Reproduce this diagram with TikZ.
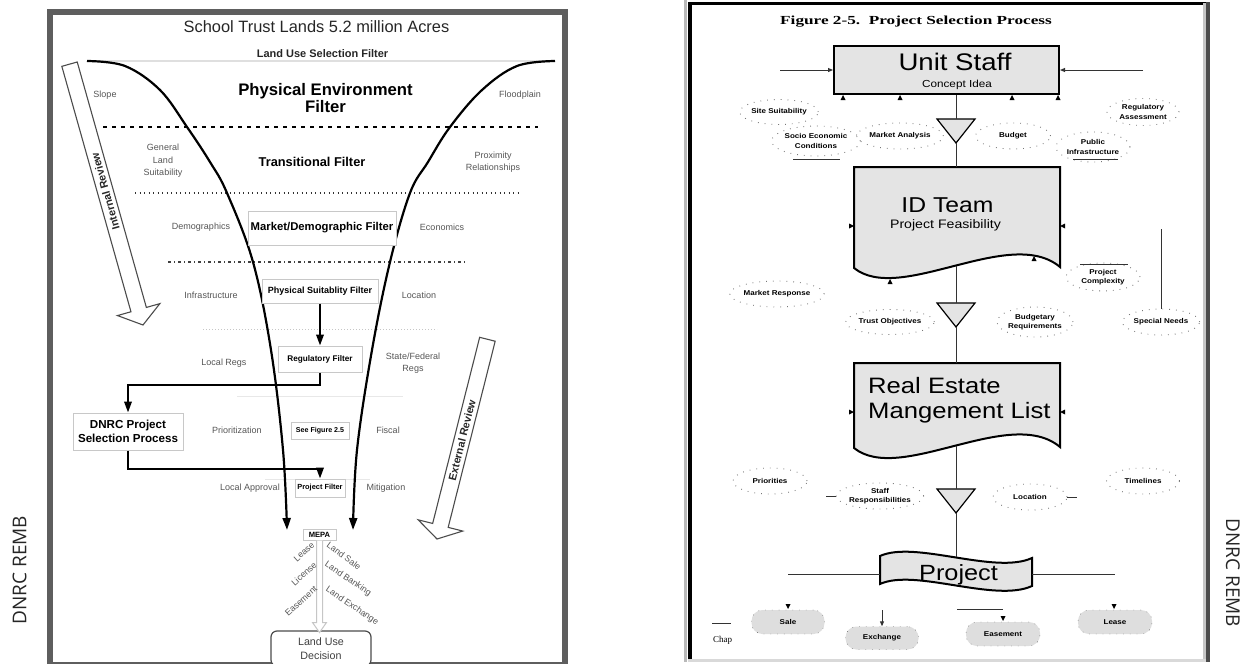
\documentclass[tikz,border=0pt]{standalone}
\usepackage{fontspec}
\setmainfont{Liberation Sans}
\newfontfamily\widesans[FakeStretch=1.15]{Liberation Sans}
\newfontfamily\figtitle[FakeStretch=1.4]{Liberation Serif}
\newfontfamily\chapfont{Liberation Serif}
\newfontfamily\marginfont{Open Sans}
\usetikzlibrary{arrows.meta,positioning,shapes.geometric}

\definecolor{framegray}{HTML}{5E5E5E}
\definecolor{lblgray}{HTML}{555555}
\definecolor{boxedge}{HTML}{C8C8C8}
\definecolor{boxfill}{HTML}{E4E4E4}
\definecolor{pillfill}{HTML}{DEDEDE}
\definecolor{ringgray}{HTML}{777777}

\newcommand{\fsz}[2]{\fontsize{#1}{#2}\selectfont}
% small arrow tips sitting on box edges
\newcommand{\tipup}[1]{\fill #1 -- ++(-2.5,5) -- ++(5,0) -- cycle;}
\newcommand{\tipdown}[1]{\fill #1 -- ++(-2.5,-5) -- ++(5,0) -- cycle;}
\newcommand{\tipright}[1]{\fill #1 -- ++(-5,-2.5) -- ++(0,5) -- cycle;}
\newcommand{\tipleft}[1]{\fill #1 -- ++(5,-2.5) -- ++(0,5) -- cycle;}

\begin{document}
\begin{tikzpicture}[x=1pt, y=-1pt,
  sidelbl/.style={font=\fsz{9}{12.5}, text=lblgray, align=center, inner sep=0pt},
  fbox/.style={draw=boxedge, line width=1pt, fill=white, font=\bfseries, inner sep=0pt},
  funnel/.style={line width=2.2pt, -{Triangle[length=12pt,width=8pt]}},
  flow/.style={line width=2pt, -{Triangle[length=11pt,width=7.5pt]}},
  bigarrow/.style={draw=black!70, line width=1.1pt, fill=white, line join=miter},
  outlbl/.style={font=\fsz{8.8}{10}, text=lblgray, inner sep=0pt},
  stepbox/.style={draw=black, line width=2pt, fill=boxfill},
  ring/.style={ellipse, draw=ringgray, dash pattern=on 0.8pt off 6pt, line width=0.9pt, font=\widesans\bfseries\fsz{7}{9.5}, align=center, inner sep=0pt},
  pill/.style={rectangle, rounded corners=11pt, fill=pillfill, draw=black!70, dash pattern=on 0.8pt off 6pt, font=\widesans\bfseries\fsz{7}{9}, inner sep=0pt},
  link/.style={line width=1pt, draw=black!80},
  mergetri/.style={draw=black, line width=1.2pt, fill=boxfill},
  sidenote/.style={font=\marginfont\fsz{19}{20}, text=black!85, inner sep=0pt},
]
\useasboundingbox (0,0) rectangle (1248,664);

% margin labels
\node[sidenote, rotate=90] (dnrcL) at (19.5,570) {DNRC REMB};
\node[sidenote, rotate=-90] (dnrcR) at (1233,573) {DNRC REMB};

% ---------------- left panel: land use funnel ----------------
\draw[line width=6pt, framegray] (50,12) rectangle (565,690);
\draw[line width=1.5pt, framegray] (47,663) -- (568,663);

\node[font=\fsz{16.4}{18}, text=black!85, anchor=base, inner sep=0pt] (title) at (316.5,32) {School Trust Lands 5.2 million Acres};
\node[font=\bfseries\fsz{11}{12}, text=black!85, anchor=base, inner sep=0pt] (lusf) at (322.5,57) {Land Use Selection Filter};
\draw[line width=1.2pt, gray!25] (93,61) -- (555,61);

% filter separators
\draw[line width=2pt, dash pattern=on 4pt off 5pt] (103,127) -- (538,127);
\draw[line width=1.3pt, black!80, dash pattern=on 1.3pt off 3.2pt] (135,193) -- (520,193);
\draw[line width=1.2pt, black!75, dash pattern=on 3pt off 3pt on 1pt off 3pt] (168,262) -- (468,262);
\draw[line width=1pt, gray!45, dash pattern=on 1pt off 2pt] (203,329) -- (437,329);
\draw[line width=1pt, gray!18] (237,396) -- (403,396);
\draw[line width=1pt, gray!18] (265,479) -- (370,479);

% funnel walls
\coordinate (lfend) at (287,530);
\coordinate (rfend) at (353,530);
\draw[funnel] plot[smooth, tension=0.6] coordinates {(87,61) (125,66) (160,90) (187,127) (210,162) (227,193) (253,262) (271,350) (283,450) (lfend)};
\draw[funnel] plot[smooth, tension=0.6] coordinates {(555,61) (517,66) (482,90) (450,127) (428,162) (410,193) (390,262) (372,350) (357,450) (rfend)};

% review arrows
\begin{scope}[shift={(143,325)}, rotate=-74.27]
  \draw[bigarrow] (0pt,0pt) -- (-16pt,22pt) -- (-16pt,8pt) -- (-271pt,8pt) -- (-271pt,-8pt) -- (-16pt,-8pt) -- (-16pt,-22pt) -- cycle;
  \node[font=\bfseries\fsz{10.8}{12}, text=black!85, rotate=105.73, inner sep=0pt] (intrev) at (-139pt,0pt) {Internal Review};
\end{scope}
\begin{scope}[shift={(437,539)}, rotate=-104.17]
  \draw[bigarrow] (0pt,0pt) -- (-14pt,23pt) -- (-14pt,8pt) -- (-206pt,8pt) -- (-206pt,-8pt) -- (-14pt,-8pt) -- (-14pt,-23pt) -- cycle;
  \node[font=\bfseries\fsz{10.8}{12}, text=black!85, rotate=75.83, inner sep=0pt] (extrev) at (-102pt,0pt) {External Review};
\end{scope}

% filter levels
\node[font=\bfseries\fsz{16.7}{18}, anchor=base, inner sep=0pt] (pe1) at (325.5,95) {Physical Environment};
\node[font=\bfseries\fsz{16.7}{18}, anchor=base, inner sep=0pt] (pe2) at (325.5,112) {Filter};
\node[sidelbl] (slope) at (105,95) {Slope};
\node[sidelbl] (flood) at (520,95) {Floodplain};

\node[sidelbl] (genland) at (163,161) {General\\Land\\Suitability};
\node[font=\bfseries\fsz{12.8}{14}, inner sep=0pt] (trans) at (312,162) {Transitional Filter};
\node[sidelbl] (prox) at (493,162) {Proximity\\Relationships};

\node[fbox, minimum width=148, minimum height=34, font=\bfseries\fsz{11.3}{12}] (mdf) at (322,228) {Market/Demographic Filter};
\node[sidelbl] (demo) at (201,227) {Demographics};
\node[sidelbl] (econ) at (442,227) {Economics};

\node[fbox, minimum width=116, minimum height=24, font=\bfseries\fsz{9}{10}] (psf) at (320,291) {Physical Suitablity Filter};
\node[sidelbl] (infra) at (211,295) {Infrastructure};
\node[sidelbl] (locL) at (419,295) {Location};

\node[fbox, minimum width=84, minimum height=26, font=\bfseries\fsz{8.2}{9}] (rf) at (320,359) {Regulatory Filter};
\node[sidelbl] (localregs) at (224,363) {Local Regs};
\node[sidelbl] (statefed) at (413,363) {State/Federal\\Regs};

\node[fbox, minimum width=110, minimum height=37, align=center, font=\bfseries\fsz{11.6}{13.5}] (dnrc) at (128,431.5) {DNRC Project\\Selection Process};
\node[fbox, minimum width=58, minimum height=17, font=\bfseries\fsz{7.1}{8}] (seefig) at (320,430.5) {See Figure 2.5};
\node[sidelbl] (prio) at (237,430) {Prioritization};
\node[sidelbl] (fiscal) at (388,430) {Fiscal};

\node[fbox, minimum width=50, minimum height=18, font=\bfseries\fsz{7.4}{8}] (pf) at (320,488) {Project Filter};
\node[sidelbl] (localapp) at (250,488) {Local Approval};
\node[sidelbl] (mitig) at (386,488) {Mitigation};

\node[fbox, minimum width=33, minimum height=11, font=\bfseries\fsz{7.6}{8}] (mepa) at (319.5,534.5) {MEPA};
\node[draw=black!70, line width=1.2pt, rounded corners=6pt, fill=white, minimum width=100, minimum height=35, align=center, font=\fsz{10.7}{14}, text=black!75, inner sep=0pt] (lud) at (321,648.5) {Land Use\\Decision};

\draw[flow] (psf.south) -- (rf.north);
\draw[flow] (rf.south) -- ++(0,12) -| (dnrc.north);
\draw[flow] (dnrc.south) -- ++(0,18) -| (pf.north);

% outcome channel
\draw[draw=gray!45, line width=1pt, fill=white] (mepa.south) ++(-3,0) -- ++(0,82) -- ++(-4,0) -- ++(7,10) -- ++(7,-10) -- ++(-4,0) -- ++(0,-82);
\node[outlbl, rotate=42] (lease1) at (304,552) {Lease};
\node[outlbl, rotate=42] (license) at (304,574) {License};
\node[outlbl, rotate=42] (easement1) at (301,601) {Easement};
\node[outlbl, rotate=-36] (landsale) at (344,556) {Land Sale};
\node[outlbl, rotate=-34] (landbank) at (348,579) {Land Banking};
\node[outlbl, rotate=-34] (landexch) at (352,606) {Land Exchange};

% ---------------- right panel: project selection ----------------
\draw[line width=3pt, gray!55] (685.5,0) -- (685.5,662);
\draw[line width=4pt, black] (689.5,3) -- (689.5,662);
\draw[line width=3pt, black] (688,3.5) -- (1206,3.5);
\draw[line width=3pt, gray!45] (1204.5,3) -- (1204.5,662);
\draw[line width=4pt, black!70] (1208,2) -- (1208,662);
\draw[line width=3pt, gray!30] (688,660.5) -- (1206,660.5);

\node[font=\figtitle\bfseries\fsz{12.3}{14}, anchor=base, inner sep=0pt] (figtitle) at (916,24) {Figure 2-5.\ \ Project Selection Process};

% unit staff
\node[stepbox, minimum width=225, minimum height=48, inner sep=0pt] (us) at (946.5,70) {};
\node[font=\widesans\fsz{24}{26}, anchor=base, inner sep=0pt] (ustitle) at (955,70) {Unit Staff};
\node[font=\widesans\fsz{10.2}{12}, anchor=base, inner sep=0pt] (ussub) at (957,87) {Concept Idea};
\coordinate (usinL) at (780,70);
\coordinate (usinR) at (1143,70);
\draw[link, -{Triangle[length=5pt,width=4pt]}] (usinL) -- (us.west);
\draw[link, -{Triangle[length=5pt,width=4pt]}] (usinR) -- (us.east);
\tipup{(843,95)}
\tipup{(900,95)}
\tipup{(1012,95)}
\tipup{(1058,95)}

\node[ring, minimum width=74, minimum height=25] (sitesuit) at (779,112) {Site Suitability};
\node[ring, minimum width=72, minimum height=27] (regassess) at (1143,112) {Regulatory\\Assessment};
\node[ring, minimum width=75, minimum height=26] (mktanal) at (900,136) {Market Analysis};
\node[ring, minimum width=75, minimum height=26] (budget) at (1013,136) {Budget};
\node[ring, minimum width=72, minimum height=30] (socio) at (816,141) {Socio Economic\\Conditions};
\node[ring, minimum width=68, minimum height=30] (pubinfra) at (1093,147) {Public\\Infrastructure};
\draw[link] (793,159) -- (840,159);
\draw[link] (1073,159) -- (1118,159);

% first merge
\draw[mergetri] (937,119) -- (975,119) -- (956,143) -- cycle;
\coordinate (m1top) at (956,119);
\coordinate (m1bot) at (956,143);
\draw[link] (us.south -| m1top) -- (m1top);

% id team
\draw[stepbox] (854,167) -- (1060,167) -- (1060,267) .. controls (1010,225) and (900,305) .. (854,268) -- cycle;
\coordinate (idtop) at (956,167);
\coordinate (idbot) at (956,266);
\node[font=\widesans\fsz{21.5}{24}, anchor=base, inner sep=0pt] (idtitle) at (947.5,212) {ID Team};
\node[font=\widesans\fsz{12.3}{14}, anchor=base, inner sep=0pt] (idsub) at (945.5,228) {Project Feasibility};
\draw[link] (m1bot) -- (idtop);
\tipright{(854,226)}
\tipleft{(1060,226)}
\tipup{(890,279)}
\tipup{(1034,256)}

\node[ring, minimum width=74, minimum height=28] (projcomp) at (1103,277) {Project\\Complexity};
\draw[link] (1080,264) -- (1128,264);
\node[ring, minimum width=72, minimum height=26] (mktresp) at (777,294) {Market Response};
\node[ring, minimum width=75, minimum height=25] (trustobj) at (890,322) {Trust Objectives};
\node[ring, minimum width=70, minimum height=30] (budreq) at (1035,322) {Budgetary\\Requirements};
\node[ring, minimum width=73, minimum height=26] (specneeds) at (1161,322) {Special Needs};
\draw[link] (specneeds.north) -- ++(0,-80);

% second merge
\draw[mergetri] (937,303) -- (975,303) -- (956,327) -- cycle;
\coordinate (m2top) at (956,303);
\coordinate (m2bot) at (956,327);
\draw[link] (idbot) -- (m2top);

% real estate management list
\draw[stepbox] (854,363) -- (1060,363) -- (1060,447) .. controls (1010,405) and (900,485) .. (854,448) -- cycle;
\coordinate (rmtop) at (956,363);
\coordinate (rmbot) at (956,446);
\node[font=\widesans\fsz{22.3}{25}, anchor=base west, inner sep=0pt] (rm1) at (868,393) {Real Estate};
\node[font=\widesans\fsz{22.3}{25}, anchor=base west, inner sep=0pt] (rm2) at (868,418) {Mangement List};
\draw[link] (m2bot) -- (rmtop);
\tipright{(854,412)}
\tipleft{(1060,412)}

\node[ring, minimum width=74, minimum height=26] (priorities) at (770,481) {Priorities};
\node[ring, minimum width=73, minimum height=26] (timelines) at (1143,481) {Timelines};
\node[ring, minimum width=73, minimum height=26] (staffresp) at (880,496) {Staff\\Responsibilities};
\node[ring, minimum width=74, minimum height=26] (location) at (1030,497) {Location};
\draw[link] (staffresp.west) -- ++(-10,0);
\draw[link] (location.east) -- ++(10,0);

% third merge
\draw[mergetri] (937,489) -- (975,489) -- (956,513) -- cycle;
\coordinate (m3top) at (956,489);
\coordinate (m3bot) at (956,513);
\draw[link] (rmbot) -- (m3top);

% project
\draw[stepbox] (880,556) .. controls (915,540) and (995,575) .. (1032,558) -- (1032,586) .. controls (995,603) and (915,568) .. (880,584) -- cycle;
\coordinate (pjtop) at (956,557);
\coordinate (pjleft) at (880,574);
\coordinate (pjright) at (1032,574);
\node[font=\widesans\fsz{22}{24}, anchor=base, inner sep=0pt] (pjtitle) at (958.5,580) {Project};
\draw[link] (m3bot) -- (pjtop);
\draw[link] (pjleft) -- ++(-92,0);
\draw[link] (pjright) -- ++(83,0);

% outcomes
\node[pill, minimum width=73, minimum height=24] (sale) at (788,622) {Sale};
\node[pill, minimum width=73, minimum height=23] (exchange) at (882,638) {Exchange};
\node[pill, minimum width=74, minimum height=24] (easement) at (1003,634) {Easement};
\node[pill, minimum width=74, minimum height=24] (lease) at (1115,622) {Lease};
\tipdown{(788,609)}
\tipdown{(1003,621)}
\tipdown{(1114,609)}
\coordinate (exin) at (882,610);
\draw[link, -{Triangle[length=5pt,width=4pt]}] (exin) -- (exchange.north);
\draw[link] (957,609) -- (1003,609);
\draw[link] (712,623) -- (731,623);
\node[font=\chapfont\fsz{9}{10}, anchor=base west, inner sep=0pt] (chap) at (713,642) {Chap};

\end{tikzpicture}
\end{document}
